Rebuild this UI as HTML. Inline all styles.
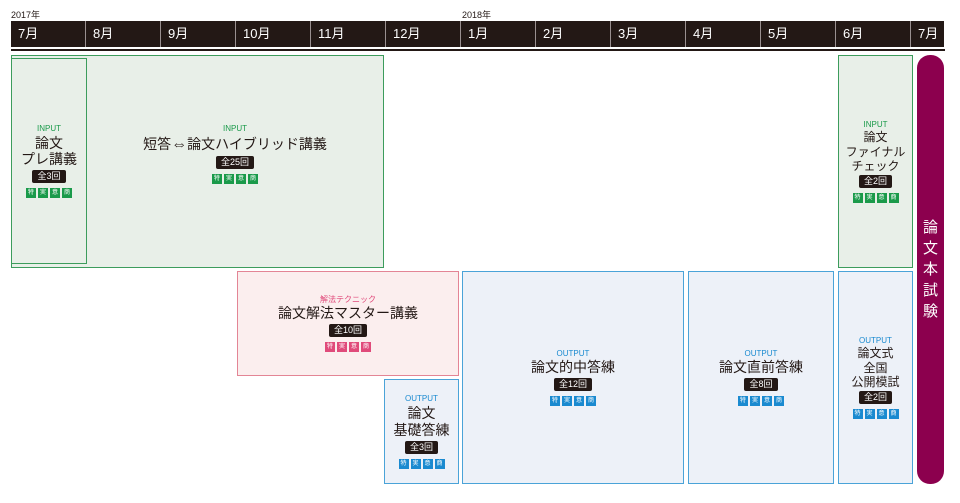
<!DOCTYPE html>
<html><head><meta charset="utf-8"><style>
body{margin:0;width:960px;height:503px;background:#fff;position:relative;overflow:hidden;font-family:"Liberation Sans","Noto Sans CJK JP",sans-serif;color:#231815}
.a{position:absolute;box-sizing:border-box}
.yr{font-size:9px;top:8px}
.hd{top:21px;height:26px;background:#231815;color:#fff;font-size:13px;line-height:26px;padding-left:7px;border-right:1px solid #9a9090}
.g{background:#e8efe8;border:1px solid #3c9c5c}
.p{background:#fbeeee;border:1px solid #e38595}
.b{background:#edf1f8;border:1px solid #4aa3d8}
.c{display:flex;flex-direction:column;align-items:center;justify-content:center;text-align:center;line-height:1.2}
.t{font-size:8px;margin-bottom:1px}
.n{font-size:14px}
.k{background:#231815;color:#fff;font-size:9px;padding:0 5px;border-radius:2px;line-height:13px;margin:2px 0 5px}
.bd{display:flex;gap:2px}
.bd span{display:block;width:10px;height:10px;font-size:6px;line-height:10px;color:#fff}
.g .bd span{background:#1a9a4a}.p .bd span{background:#e04a7a}.b .bd span{background:#1a8ad0}
.ar{font-size:16px}
</style></head><body>
<div class="a yr" style="left:11px">2017年</div>
<div class="a yr" style="left:462px">2018年</div>
<div class="a hd" style="left:11px;width:75px">7月</div>
<div class="a hd" style="left:86px;width:75px">8月</div>
<div class="a hd" style="left:161px;width:75px">9月</div>
<div class="a hd" style="left:236px;width:75px">10月</div>
<div class="a hd" style="left:311px;width:75px">11月</div>
<div class="a hd" style="left:386px;width:75px">12月</div>
<div class="a hd" style="left:461px;width:75px">1月</div>
<div class="a hd" style="left:536px;width:75px">2月</div>
<div class="a hd" style="left:611px;width:75px">3月</div>
<div class="a hd" style="left:686px;width:75px">4月</div>
<div class="a hd" style="left:761px;width:75px">5月</div>
<div class="a hd" style="left:836px;width:75px">6月</div>
<div class="a hd" style="left:911px;width:33px;border-right:none">7月</div>
<div class="a" style="left:11px;top:49px;width:934px;height:2px;background:#231815"></div>

<div class="a g c" style="left:11px;top:55px;width:373px;height:213px;padding-left:75px;padding-bottom:15px"><div class="t" style="color:#1a9a4a">INPUT</div><div class="n">短答<span class="ar">⇔</span>論文ハイブリッド講義</div><div class="k">全25回</div><div class="bd"><span>特</span><span>実</span><span>意</span><span>商</span></div></div>
<div class="a g c" style="left:11px;top:58px;width:76px;height:206px"><div class="t" style="color:#1a9a4a">INPUT</div><div class="n">論文<br>プレ講義</div><div class="k">全3回</div><div class="bd"><span>特</span><span>実</span><span>意</span><span>商</span></div></div>
<div class="a g c" style="left:838px;top:55px;width:75px;height:213px"><div class="t" style="color:#1a9a4a">INPUT</div><div class="n" style="font-size:12px">論文<br>ファイナル<br>チェック</div><div class="k">全2回</div><div class="bd"><span>特</span><span>実</span><span>意</span><span>商</span></div></div>

<div class="a p c" style="left:237px;top:271px;width:222px;height:105px"><div class="t" style="color:#e04a7a">解法テクニック</div><div class="n">論文解法マスター講義</div><div class="k">全10回</div><div class="bd"><span>特</span><span>実</span><span>意</span><span>商</span></div></div>
<div class="a b c" style="left:384px;top:379px;width:75px;height:105px"><div class="t" style="color:#1a8ad0">OUTPUT</div><div class="n">論文<br>基礎答練</div><div class="k">全3回</div><div class="bd"><span>特</span><span>実</span><span>意</span><span>商</span></div></div>
<div class="a b c" style="left:462px;top:271px;width:222px;height:213px"><div class="t" style="color:#1a8ad0">OUTPUT</div><div class="n">論文的中答練</div><div class="k">全12回</div><div class="bd"><span>特</span><span>実</span><span>意</span><span>商</span></div></div>
<div class="a b c" style="left:688px;top:271px;width:146px;height:213px"><div class="t" style="color:#1a8ad0">OUTPUT</div><div class="n">論文直前答練</div><div class="k">全8回</div><div class="bd"><span>特</span><span>実</span><span>意</span><span>商</span></div></div>
<div class="a b c" style="left:838px;top:271px;width:75px;height:213px"><div class="t" style="color:#1a8ad0">OUTPUT</div><div class="n" style="font-size:12px">論文式<br>全国<br>公開模試</div><div class="k">全2回</div><div class="bd"><span>特</span><span>実</span><span>意</span><span>商</span></div></div>

<div class="a c" style="left:917px;top:55px;width:27px;height:429px;background:#8c004e;border-radius:13px;color:#fff;font-size:15px;line-height:21px">論<br>文<br>本<br>試<br>験</div>
</body></html>
